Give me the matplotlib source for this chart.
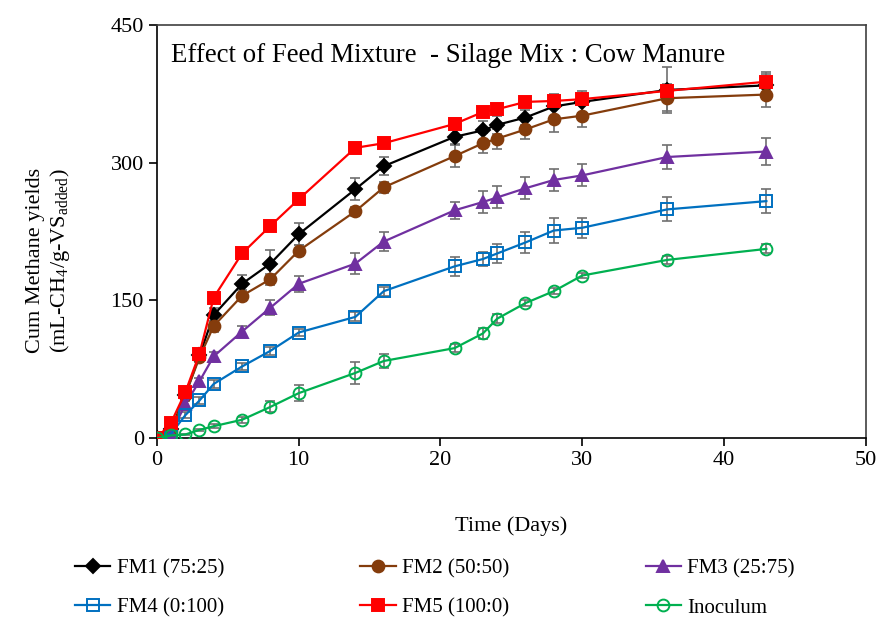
import matplotlib.pyplot as plt

plt.rcParams['font.family'] = ['Liberation Serif', 'DejaVu Serif']
plt.rcParams['mathtext.fontset'] = 'custom'
plt.rcParams['mathtext.rm'] = 'Liberation Serif'
plt.rcParams['mathtext.it'] = 'Liberation Serif:italic'

dias = [0, 1, 2, 3, 4, 6, 8, 10, 14, 16, 21, 23, 24, 26, 28, 30, 36, 43]

fm1 = [0, 10, 47, 90, 134, 168, 190, 222, 271, 296, 328, 335, 341, 349, 361, 366, 379, 384]
fm2 = [0, 8, 47, 88, 122, 155, 173, 204, 247, 273, 307, 321, 326, 336, 347, 351, 370, 374]
fm3 = [0, 5, 37, 62, 89, 116, 142, 168, 190, 214, 248, 257, 262, 272, 281, 286, 306, 312]
fm4 = [0, 5, 25, 41, 59, 78, 95, 115, 132, 160, 187, 195, 201, 213, 226, 229, 249, 258]
fm5 = [0, 17, 50, 92, 153, 201, 231, 260, 316, 321, 342, 355, 358, 366, 367, 369, 378, 388]
inoc = [0, 3, 4, 9, 13, 20, 34, 49, 71, 84, 98, 114, 130, 147, 160, 177, 194, 206]

err1 = [0, 2, 4, 6, 8, 10, 15, 12, 12, 10, 8, 10, 10, 8, 14, 12, 25, 14]
err2 = [0, 2, 3, 5, 6, 6, 6, 6, 5, 6, 12, 11, 11, 10, 14, 12, 14, 14]
err3 = [0, 1, 3, 4, 5, 6, 8, 9, 11, 10, 9, 12, 12, 12, 12, 12, 13, 15]
err4 = [0, 1, 3, 4, 4, 4, 4, 4, 5, 5, 10, 8, 10, 11, 14, 11, 13, 13]
err5 = [0, 2, 3, 4, 5, 4, 4, 4, 4, 4, 6, 4, 4, 4, 6, 6, 8, 8]
err_inoc = [0, 1, 1, 1, 2, 3, 6, 9, 12, 8, 4, 6, 5, 3, 3, 3, 4, 5]

series = [
    ("FM1 (75:25)", fm1, err1, "black", "D", "black", 7),
    ("FM2 (50:50)", fm2, err2, "#843C0C", "o", "#843C0C", 8.5),
    ("FM3 (25:75)", fm3, err3, "#7030A0", "^", "#7030A0", 8.5),
    ("FM4 (0:100)", fm4, err4, "#0070C0", "s", "none", 8),
    ("FM5 (100:0)", fm5, err5, "#FF0000", "s", "#FF0000", 8.5),
    ("Inoculum", inoc, err_inoc, "#00B050", "o", "none", 8.5),
]

fig = plt.figure(figsize=(8.77, 6.18), dpi=100)
ax = fig.add_axes([0.179, 0.291, 0.808, 0.669])

linhas = []
for nome, y, e, cor, mk, face, ms in series:
    ax.errorbar(dias, y, yerr=e, fmt="none", ecolor="#707070", elinewidth=1.2,
                capsize=3.5, capthick=1.2, zorder=2)
    ln, = ax.plot(dias, y, color=cor, marker=mk, markerfacecolor=face, markeredgecolor=cor,
                  markersize=ms, markeredgewidth=1.4, linewidth=1.6, label=nome, zorder=3)
    linhas.append(ln)

ax.set_xlim(0, 50)
ax.set_ylim(0, 450)
ax.set_xticks([0, 10, 20, 30, 40, 50])
ax.set_yticks([0, 150, 300, 450])
for s in ax.spines.values():
    s.set_color("#404040")
    s.set_linewidth(1.2)
ax.spines["left"].set_color("black")
ax.spines["bottom"].set_color("black")
ax.tick_params(direction="out", length=6, width=1.2, labelsize=16)
ax.set_xlabel("Time (Days)", fontsize=16, labelpad=33)
ax.set_ylabel("Cum Methane yields\n(mL-CH$_4$/g-VS$_{\\rm added}$)", fontsize=16)
ax.yaxis.set_label_coords(-0.12, 0.43)
ax.text(0.02, 0.955, "Effect of Feed Mixture  - Silage Mix : Cow Manure",
        transform=ax.transAxes, fontsize=19.3, va="top")

# ordem por linha: FM1 FM2 FM3 / FM4 FM5 Inoculum
ordem = [0, 3, 1, 4, 2, 5]
fig.legend([linhas[i] for i in ordem], [series[i][0] for i in ordem],
           loc="lower left", bbox_to_anchor=(0.064, -0.03), ncol=3, fontsize=15,
           frameon=False, columnspacing=6.55, handlelength=1.7, handletextpad=0.3,
           labelspacing=0.95)

plt.savefig("out.png", dpi=100)
